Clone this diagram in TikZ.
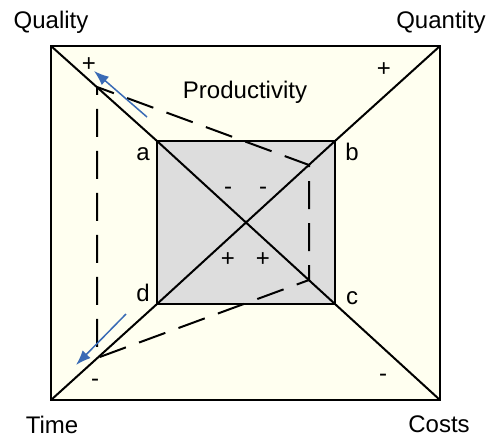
\documentclass[tikz,border=0pt]{standalone}
\usepackage{fontspec}
\setmainfont{Liberation Sans}
\usetikzlibrary{arrows.meta}
\definecolor{cream}{HTML}{FFFFF0}
\definecolor{innergray}{HTML}{DDDDDD}
\definecolor{arrowblue}{HTML}{3A6BB5}
\begin{document}
\begin{tikzpicture}[x=1pt,y=-1pt,
  lbl/.style={inner sep=0pt,anchor=base,font=\fontsize{24}{28}\selectfont},
  sgn/.style={inner sep=0pt,anchor=base,font=\fontsize{24}{28}\selectfont},
  edge/.style={line width=2pt,line join=miter},
  dsh/.style={line width=2pt,dash pattern=on 28pt off 14pt,dash phase=10pt},
  blue arrow/.style={arrowblue,line width=1.5pt,-{Latex[length=15pt,width=11pt]}}]
\useasboundingbox (0,0) rectangle (492,437);
% outer corners
\coordinate (Q) at (51,46);
\coordinate (N) at (440,46);
\coordinate (C) at (440,400);
\coordinate (T) at (51,400);
% inner corners
\coordinate (a) at (157,141);
\coordinate (b) at (335,141);
\coordinate (c) at (335,304);
\coordinate (d) at (157,304);
\fill[cream] (Q) rectangle (C);
\fill[innergray] (a) rectangle (c);
\draw[edge] (Q) -- (N) -- (C) -- (T) -- cycle;
\draw[edge] (a) -- (b) -- (c) -- (d) -- cycle;
\draw[edge] (Q) -- (a) -- (c) -- (C);
\draw[edge] (N) -- (b) -- (d) -- (T);
% dashed path
\coordinate (p1) at (97,87);
\coordinate (p2) at (309,165);
\coordinate (p3) at (309,280);
\coordinate (p4) at (97,358);
\draw[dsh] (p1) -- (p2) -- (p3) -- (p4) -- cycle;
% blue arrows
\coordinate (u1) at (147,117);
\coordinate (u2) at (94,71);
\coordinate (v1) at (126,314);
\coordinate (v2) at (76,365);
\draw[blue arrow] (u1) -- (u2);
\draw[blue arrow] (v1) -- (v2);
% labels
\node[lbl] (quality) at (51,28) {Quality};
\node[lbl] (quantity) at (441,28) {Quantity};
\node[lbl] (time) at (52,433) {Time};
\node[lbl] (costs) at (439,432) {Costs};
\node[lbl] (prod) at (245,98) {Productivity};
\node[lbl] (la) at (143,160) {a};
\node[lbl] (lb) at (352,160) {b};
\node[lbl] (lc) at (352,304) {c};
\node[lbl] (ld) at (143,301) {d};
% signs
\node[sgn] (s1) at (89,71) {+};
\node[sgn] (s2) at (384,76) {+};
\node[sgn] (s3) at (95,386) {-};
\node[sgn] (s4) at (383,381) {-};
\node[sgn] (s5) at (228,194) {-};
\node[sgn] (s6) at (263,194) {-};
\node[sgn] (s7) at (228,266) {+};
\node[sgn] (s8) at (263,266) {+};
\end{tikzpicture}
\end{document}
